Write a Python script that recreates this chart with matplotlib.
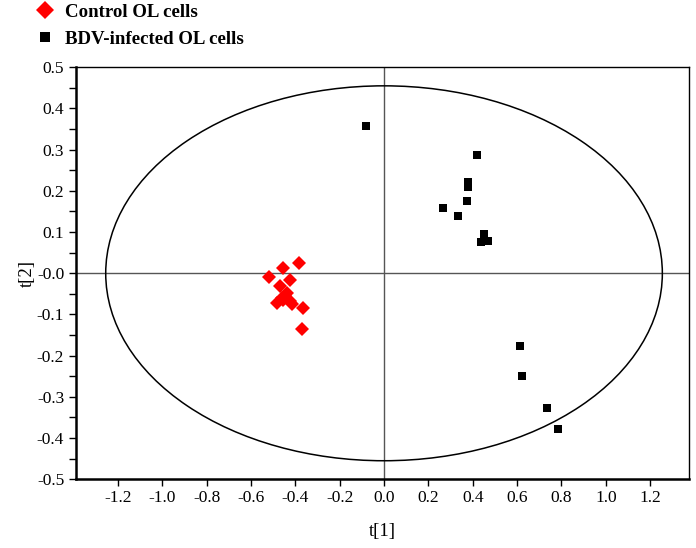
import numpy as np
import matplotlib
matplotlib.use("Agg")
import matplotlib.pyplot as plt
from matplotlib.patches import Ellipse
from matplotlib.ticker import MultipleLocator

# Data (PCA scores t[1], t[2])
control_t1 = [-0.383, -0.454, -0.519, -0.424, -0.469, -0.439, -0.461, -0.484,
              -0.424, -0.416, -0.454, -0.365, -0.368, -0.445]
control_t2 = [0.025, 0.013, -0.008, -0.017, -0.032, -0.048, -0.060, -0.072,
              -0.068, -0.074, -0.064, -0.085, -0.135, -0.055]
bdv_t1 = [-0.081, 0.421, 0.379, 0.379, 0.374, 0.268, 0.332, 0.451, 0.437, 0.470,
          0.615, 0.621, 0.733, 0.786]
bdv_t2 = [0.358, 0.288, 0.222, 0.210, 0.176, 0.158, 0.138, 0.095, 0.077, 0.079,
          -0.176, -0.249, -0.328, -0.378]
labels = ["Control OL cells", "BDV-infected OL cells"]
xticks = [-1.2, -1.0, -0.8, -0.6, -0.4, -0.2, 0.0, 0.2, 0.4, 0.6, 0.8, 1.0, 1.2]
yticks = [0.5, 0.4, 0.3, 0.2, 0.1, 0.0, -0.1, -0.2, -0.3, -0.4, -0.5]
ytick_labels = ["0.5", "0.4", "0.3", "0.2", "0.1", "-0.0", "-0.1", "-0.2", "-0.3", "-0.4", "-0.5"]
ellipse_a = 1.255
ellipse_b = 0.455

plt.rcParams['font.family'] = ['Liberation Serif', 'DejaVu Serif']

fig = plt.figure(figsize=(6.96, 5.48), dpi=100)
ax = fig.add_axes([0.1092, 0.1254, 0.881, 0.7518])

ax.set_xlim(-1.389, 1.376)
ax.set_ylim(-0.5, 0.5)

ax.axhline(0, color='#555555', lw=1.0, zorder=1)
ax.axvline(0, color='#555555', lw=1.0, zorder=1)
ax.add_patch(Ellipse((0, 0), 2 * ellipse_a, 2 * ellipse_b, fill=False,
                     edgecolor='black', lw=1.1, zorder=2))

h1, = ax.plot(control_t1, control_t2, linestyle='none', marker='D',
              markersize=7.3, color='#ff0000', markeredgewidth=0, zorder=3)
h2, = ax.plot(bdv_t1, bdv_t2, linestyle='none', marker='s',
              markersize=5.8, color='black', markeredgewidth=0, zorder=3)

ax.set_xticks(xticks)
ax.set_xticklabels([f"{v:.1f}" for v in xticks])
ax.set_yticks(yticks)
ax.set_yticklabels(ytick_labels)
ax.yaxis.set_minor_locator(MultipleLocator(0.05))
ax.tick_params(axis='both', which='both', direction='out', labelsize=12.5,
               colors='black', width=1.0)
ax.tick_params(axis='both', which='major', length=5)
ax.tick_params(axis='y', which='minor', length=5)
ax.tick_params(axis='x', pad=3)
ax.tick_params(axis='y', pad=3.5)

for side in ['left', 'bottom']:
    ax.spines[side].set_linewidth(1.8)
for side in ['top', 'right']:
    ax.spines[side].set_linewidth(1.0)

ax.set_xlabel("t[1]", fontsize=13.5, labelpad=12)
ax.set_ylabel("t[2]", fontsize=13.5, labelpad=0.5)

fig.legend([h1, h2], labels, loc='upper left', bbox_to_anchor=(0.045, 1.0),
           bbox_transform=fig.transFigure, frameon=False,
           prop={'weight': 'bold', 'size': 13.6}, handlelength=1.0,
           handletextpad=0.6, labelspacing=0.5, borderaxespad=0.1,
           borderpad=0.1, markerscale=1.25)

fig.savefig("out.png", dpi=100)
